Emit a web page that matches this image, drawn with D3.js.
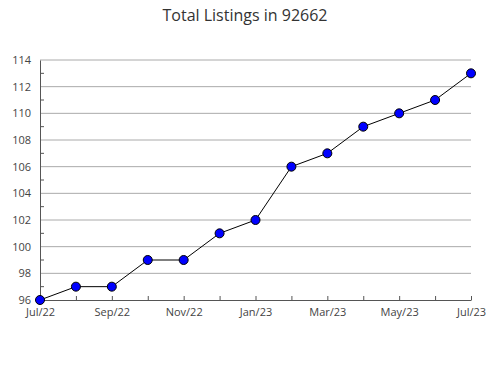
<!DOCTYPE html>
<html>
<head>
<meta charset="utf-8">
<script src="https://cdn.jsdelivr.net/npm/d3@7"></script>
<style>
  body { margin: 0; background: #fff; }
  text { font-family: "Open Sans", "Noto Sans", sans-serif; }
</style>
</head>
<body>
<div id="chart"></div>
<script>
var months = ["Jul/22","Aug/22","Sep/22","Oct/22","Nov/22","Dec/22","Jan/23","Feb/23","Mar/23","Apr/23","May/23","Jun/23","Jul/23"]
var listings = [96, 97, 97, 99, 99, 101, 102, 106, 107, 109, 110, 111, 113]
var yTicks = [96, 98, 100, 102, 104, 106, 108, 110, 112, 114]
var yMinor = [97, 99, 101, 103, 105, 107, 109, 111, 113]

var margin = {top: 60, right: 19, bottom: 80, left: 40}
	,width  = 490 - margin.left - margin.right
	,height = 380 - margin.top - margin.bottom

var svg = d3.select("#chart").append("svg")
	.attr("width", 490)
	.attr("height", 380)

svg.append("text")
	.attr("x", 245)
	.attr("y", 21)
	.attr("text-anchor", "middle")
	.attr("font-size", 16)
	.attr("fill", "#333")
	.text("Total Listings in 92662")

var x = d3.scalePoint().domain(months).range([0, width])
var y = d3.scaleLinear().domain([96, 114]).range([height, 0])

var g = svg.append("g").attr("transform", "translate(" + margin.left + "," + margin.top + ")")

// gridlines
g.append("g")
  .selectAll("line")
  .data(yTicks.slice(1))
  .enter().append("line")
	.attr("x1", 0).attr("x2", width)
	.attr("y1", function(d){ return y(d) }).attr("y2", function(d){ return y(d) })
	.attr("stroke", "#aaa")

// minor ticks on y axis
g.append("g")
  .selectAll("line")
  .data(yMinor)
  .enter().append("line")
	.attr("x1", 0).attr("x2", 4)
	.attr("y1", function(d){ return y(d) }).attr("y2", function(d){ return y(d) })
	.attr("stroke", "#555")

// y axis
var yAxis = g.append("g")
  .call(d3.axisLeft(y).tickValues(yTicks).tickSize(0).tickPadding(9))
yAxis.select(".domain").attr("stroke", "#555")
yAxis.selectAll("text").attr("font-size", 11).attr("fill", "#444")

// x axis
var xAxis = g.append("g")
  .attr("transform", "translate(0," + height + ")")
  .call(d3.axisBottom(x).tickSize(-4).tickSizeOuter(0).tickPadding(8)
	.tickFormat(function(d, i){ return i % 2 == 0 ? d : "" }))
xAxis.select(".domain").attr("stroke", "#555")
xAxis.selectAll(".tick line").attr("stroke", "#555")
xAxis.selectAll("text").attr("font-size", 11).attr("fill", "#444")

var line = d3.line()
	.x(function(d, i){ return x(months[i]) })
	.y(function(d){ return y(d) })

g.append("path")
  .datum(listings)
  .attr("d", line)
  .attr("fill", "none")
  .attr("stroke", "#000")
  .attr("stroke-width", 1)

g.selectAll(".dot")
  .data(listings)
  .enter().append("circle")
	.attr("class", "dot")
	.attr("cx", function(d, i){ return x(months[i]) })
	.attr("cy", function(d){ return y(d) })
	.attr("r", 4.5)
	.attr("fill", "#0000ff")
	.attr("stroke", "#000")
	.attr("stroke-width", 1)
</script>
</body>
</html>
